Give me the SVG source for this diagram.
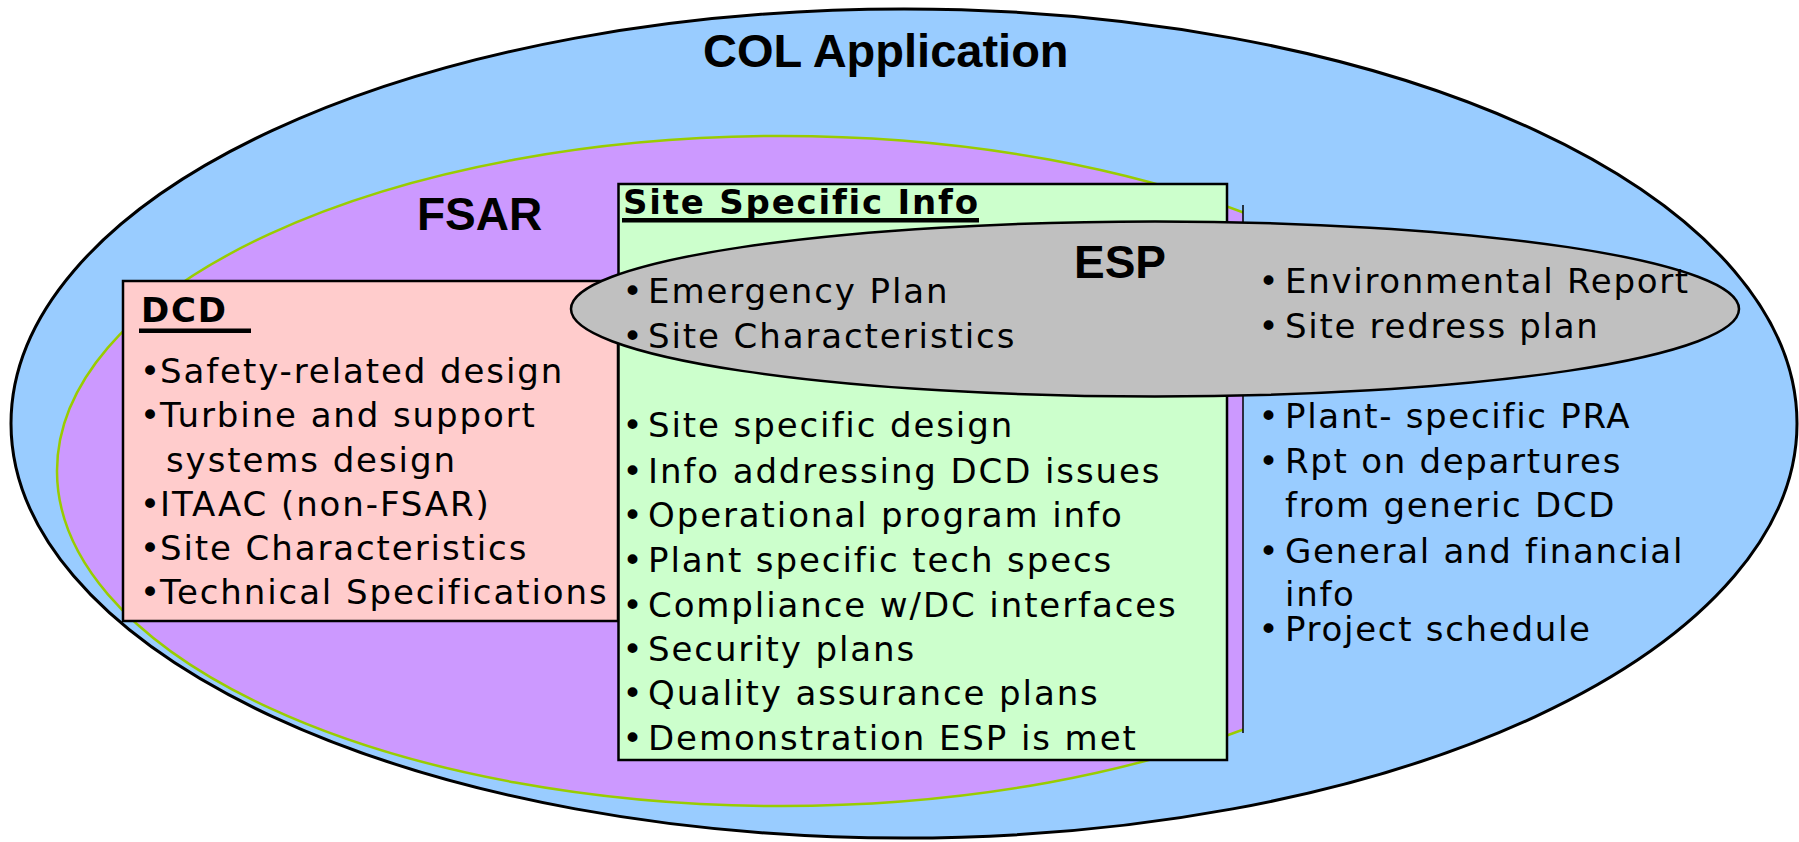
<svg xmlns="http://www.w3.org/2000/svg" width="1799" height="842" viewBox="0 0 1799 842">
<style>
.title{font-family:"Liberation Sans",Arial,sans-serif;font-weight:bold;fill:#000}
.hd{font-family:"DejaVu Sans",Verdana,sans-serif;font-weight:bold;font-size:34px;letter-spacing:1.8px;fill:#000}
.b{font-family:"DejaVu Sans",Verdana,sans-serif;font-size:34px;letter-spacing:1.9px;fill:#000}
.r{letter-spacing:1.7px}
.dot{font-family:"DejaVu Sans",Verdana,sans-serif;font-size:34px;fill:#000}
.box{stroke:#000;stroke-width:2.5}
</style>
<defs>
<clipPath id="fsarClip"><rect x="0" y="0" width="1243" height="842"/></clipPath>
</defs>
<rect width="1799" height="842" fill="#FFFFFF"/>
<g id="col">
<ellipse cx="904" cy="423.5" rx="893" ry="414.5" fill="#99CCFF" stroke="#000" stroke-width="3"/>
<text class="title" x="703" y="67" font-size="47">COL Application</text>
</g>
<g id="fsar">
<ellipse cx="782" cy="471" rx="725" ry="335" fill="#CC99FF" stroke="#99CC00" stroke-width="2.5" clip-path="url(#fsarClip)"/>
<line x1="1243" y1="205" x2="1243" y2="733" stroke="#000" stroke-width="1.5"/>
<text class="title" x="417" y="230" font-size="46">FSAR</text>
</g>
<g id="dcd">
<rect class="box" x="123" y="281" width="495" height="340" fill="#FFCCCC"/>
<text class="hd" x="141" y="322">DCD</text>
<rect x="139" y="328.5" width="112" height="4.5" fill="#000"/>
<text class="b"><tspan class="dot" x="140" y="383">•</tspan><tspan x="160" y="383">Safety-related design</tspan></text>
<text class="b"><tspan class="dot" x="140" y="427">•</tspan><tspan x="160" y="427">Turbine and support</tspan></text>
<text class="b"><tspan x="166" y="471.5">systems design</tspan></text>
<text class="b"><tspan class="dot" x="140" y="516">•</tspan><tspan x="160" y="516">ITAAC (non-FSAR)</tspan></text>
<text class="b"><tspan class="dot" x="140" y="560">•</tspan><tspan x="160" y="560">Site Characteristics</tspan></text>
<text class="b"><tspan class="dot" x="140" y="604">•</tspan><tspan x="160" y="604">Technical Specifications</tspan></text>
</g>
<g id="site-specific">
<rect class="box" x="618.5" y="184" width="608.5" height="576" fill="#CCFFCC"/>
<text class="hd" x="623" y="214">Site Specific Info</text>
<rect x="622" y="218" width="357" height="4.5" fill="#000"/>
</g>
<g id="esp">
<ellipse cx="1155" cy="309" rx="584" ry="87.5" fill="#C0C0C0" stroke="#000" stroke-width="2.5"/>
<text class="title" x="1074" y="278" font-size="46">ESP</text>
<text class="b"><tspan class="dot" x="622.5" y="303">•</tspan><tspan x="648" y="303">Emergency Plan</tspan></text>
<text class="b"><tspan class="dot" x="622.5" y="348">•</tspan><tspan x="648" y="348">Site Characteristics</tspan></text>
<text class="b r"><tspan class="dot" x="1258.5" y="293">•</tspan><tspan x="1285" y="293">Environmental Report</tspan></text>
<text class="b r"><tspan class="dot" x="1258.5" y="338">•</tspan><tspan x="1285" y="338">Site redress plan</tspan></text>
</g>
<g id="site-specific-items">
<text class="b"><tspan class="dot" x="622.5" y="437">•</tspan><tspan x="648" y="437">Site specific design</tspan></text>
<text class="b"><tspan class="dot" x="622.5" y="482.5">•</tspan><tspan x="648" y="482.5">Info addressing DCD issues</tspan></text>
<text class="b"><tspan class="dot" x="622.5" y="527">•</tspan><tspan x="648" y="527">Operational program info</tspan></text>
<text class="b"><tspan class="dot" x="622.5" y="571.5">•</tspan><tspan x="648" y="571.5">Plant specific tech specs</tspan></text>
<text class="b"><tspan class="dot" x="622.5" y="616.5">•</tspan><tspan x="648" y="616.5">Compliance w/DC interfaces</tspan></text>
<text class="b"><tspan class="dot" x="622.5" y="660.5">•</tspan><tspan x="648" y="660.5">Security plans</tspan></text>
<text class="b"><tspan class="dot" x="622.5" y="705">•</tspan><tspan x="648" y="705">Quality assurance plans</tspan></text>
<text class="b"><tspan class="dot" x="622.5" y="750">•</tspan><tspan x="648" y="750">Demonstration ESP is met</tspan></text>
</g>
<g id="col-items">
<text class="b r"><tspan class="dot" x="1258.5" y="428">•</tspan><tspan x="1285" y="428">Plant- specific PRA</tspan></text>
<text class="b r"><tspan class="dot" x="1258.5" y="473">•</tspan><tspan x="1285" y="473">Rpt on departures</tspan></text>
<text class="b r"><tspan x="1285" y="517">from generic DCD</tspan></text>
<text class="b r"><tspan class="dot" x="1258.5" y="562.5">•</tspan><tspan x="1285" y="562.5">General and financial</tspan></text>
<text class="b r"><tspan x="1285" y="606">info</tspan></text>
<text class="b r"><tspan class="dot" x="1258.5" y="641">•</tspan><tspan x="1285" y="641">Project schedule</tspan></text>
</g>
<g id="connectors"></g>
</svg>
